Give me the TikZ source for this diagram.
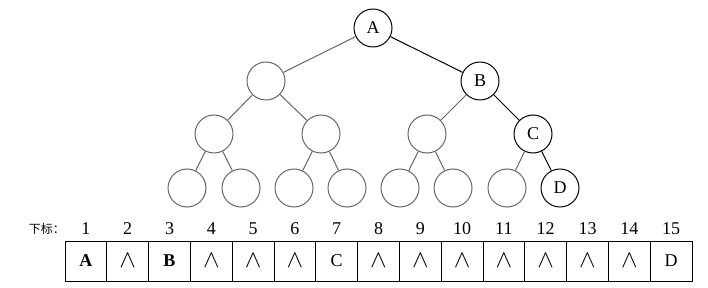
\documentclass[tikz,border=0pt]{standalone}
\usepackage{fontspec}
\setmainfont{Liberation Serif}
\newfontfamily\cjk{Noto Sans CJK SC}
\newcommand{\mywedge}{{\fontsize{26}{26}\selectfont$\wedge$}}
\begin{document}
\begin{tikzpicture}[x=1pt,y=-1pt,
  emptynode/.style={circle,draw=black!60,line width=1pt,minimum size=38pt,inner sep=0pt},
  fullnode/.style={circle,draw=black,line width=1pt,minimum size=38pt,inner sep=0pt,font=\fontsize{18}{20}\selectfont},
  greyedge/.style={draw=black!60,line width=1pt},
  blackedge/.style={draw=black,line width=1pt},
  cell/.style={draw=black,line width=0.8pt,minimum width=41.8pt,minimum height=40pt,inner sep=0pt,font=\fontsize{18}{20}\selectfont},
  idx/.style={font=\fontsize{18}{20}\selectfont,inner sep=0pt}]
\useasboundingbox (0,0) rectangle (708,288);
% tree
\node[fullnode] (n1) at (373,28) {A};
\node[emptynode] (n2) at (266,81) {};
\node[fullnode] (n3) at (480,81) {B};
\node[emptynode] (n4) at (214,134) {};
\node[emptynode] (n5) at (321,134) {};
\node[emptynode] (n6) at (427,134) {};
\node[fullnode] (n7) at (533,134) {C};
\node[emptynode] (n8) at (187,188) {};
\node[emptynode] (n9) at (241,188) {};
\node[emptynode] (n10) at (294,188) {};
\node[emptynode] (n11) at (347,188) {};
\node[emptynode] (n12) at (400,188) {};
\node[emptynode] (n13) at (453,188) {};
\node[emptynode] (n14) at (507,188) {};
\node[fullnode] (n15) at (560,188) {D};
\draw[greyedge] (n1) -- (n2);
\draw[blackedge] (n1) -- (n3);
\draw[greyedge] (n2) -- (n4);
\draw[greyedge] (n2) -- (n5);
\draw[greyedge] (n3) -- (n6);
\draw[blackedge] (n3) -- (n7);
\draw[greyedge] (n4) -- (n8);
\draw[greyedge] (n4) -- (n9);
\draw[greyedge] (n5) -- (n10);
\draw[greyedge] (n5) -- (n11);
\draw[greyedge] (n6) -- (n12);
\draw[greyedge] (n6) -- (n13);
\draw[greyedge] (n7) -- (n14);
\draw[blackedge] (n7) -- (n15);
% array
\node[font=\cjk\fontsize{12}{13}\selectfont,anchor=east,inner sep=0pt] (lbl) at (65,229) {下标：};
\foreach \i/\t in {1/\textbf{A},2/\mywedge,3/\textbf{B},4/\mywedge,5/\mywedge,6/\mywedge,7/C,8/\mywedge,9/\mywedge,10/\mywedge,11/\mywedge,12/\mywedge,13/\mywedge,14/\mywedge,15/D}{
  \node[cell] (c\i) at ({65+41.8*(\i-0.5)},261) {\t};
  \node[idx] (i\i) at ({65+41.8*(\i-0.5)},229) {\i};
}
\end{tikzpicture}
\end{document}
